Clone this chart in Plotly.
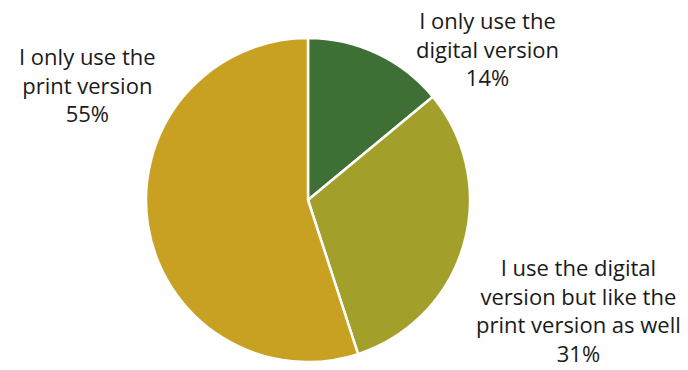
import plotly.graph_objects as go

labels = ["I only use the digital version",
          "I use the digital version but like the print version as well",
          "I only use the print version"]
label_lines = [["I only use the", "digital version"],
               ["I use the digital", "version but like the", "print version as well"],
               ["I only use the", "print version"]]
values = [14, 31, 55]
colors = ["#3E7035", "#A2A02B", "#C8A022"]

W, H = 688, 370
# label anchor centers (pixels)
label_pos = [(487, 49), (578, 310), (87, 84)]

fig = go.Figure(go.Pie(
    labels=labels, values=values, sort=False, direction="clockwise", rotation=0,
    marker=dict(colors=colors, line=dict(color="white", width=2.5)),
    textinfo="none", hoverinfo="label+percent", showlegend=False,
    domain=dict(x=[(308-162)/W, (308+162)/W], y=[(370-362)/H, (370-38)/H]),
))

for lines, v, (px, py) in zip(label_lines, values, label_pos):
    fig.add_annotation(
        x=px / W, y=1 - py / H, xref="paper", yref="paper",
        text="<br>".join(lines + [f"{v}%"]), showarrow=False,
        xanchor="center", yanchor="middle", align="center",
        font=dict(family="Open Sans", size=22, color="#1a1a1a"),
    )

fig.update_layout(width=W, height=H, margin=dict(l=0, r=0, t=0, b=0),
                  paper_bgcolor="white", plot_bgcolor="white")
fig.write_html("out.html")
